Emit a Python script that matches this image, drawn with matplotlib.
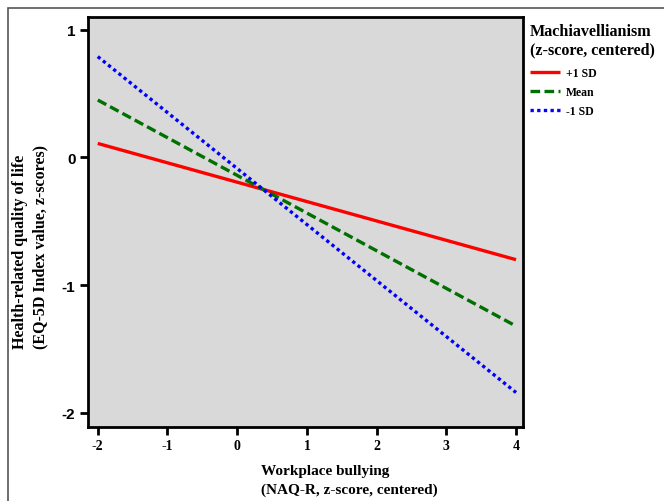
import matplotlib
matplotlib.use("Agg")
import matplotlib.pyplot as plt
from matplotlib.patches import Rectangle
import numpy as np

x_vals = [-2, 4]
plus_sd = [0.11, -0.80]
mean_vals = [0.45, -1.32]
minus_sd = [0.79, -1.84]
series_labels = ["+1 SD", "Mean", "-1 SD"]
x_ticks = [-2, -1, 0, 1, 2, 3, 4]
y_ticks = [1, 0, -1, -2]

W, H = 664, 502
fig = plt.figure(figsize=(W/100, H/100), dpi=100)
fig.patch.set_facecolor("white")
# outer frame
fig.add_artist(Rectangle((8/W, -0.1), 1.2, (H-9)/H + 0.1, transform=fig.transFigure,
                         fill=False, edgecolor="#555555", linewidth=1.2))

ax = fig.add_axes([88/W, 1-428/H, (523-88)/W, (428-18)/H])
ax.set_facecolor("#d9d9d9")
l1, = ax.plot(x_vals, plus_sd, color="#ff0000", lw=2.4, linestyle="-", solid_capstyle="butt")
l2, = ax.plot(x_vals, mean_vals, color="#007000", lw=2.4, linestyle=(0, (2.9, 1.3)))
l3, = ax.plot(x_vals, minus_sd, color="#0000ff", lw=2.4, linestyle=(0, (1.0, 1.0)))

ax.set_xlim(-2.14, 4.10)
ax.set_ylim(-2.11, 1.10)
ax.set_xticks(x_ticks)
ax.set_yticks(y_ticks)
ax.set_xticklabels([str(t) for t in x_ticks], fontfamily="Liberation Serif", fontweight="bold", fontsize=10)
ax.set_yticklabels([str(t) for t in y_ticks], fontfamily="Liberation Sans", fontweight="bold", fontsize=11)
for s in ax.spines.values():
    s.set_linewidth(2)
ax.tick_params(direction="out", length=6, width=2, pad=3)

fig.text(12/W, 1-247/H, "Health-related quality of life\n(EQ-5D Index value, z-scores)",
         rotation=90, va="center", ha="left", fontfamily="Liberation Serif", fontweight="bold",
         fontsize=11.5, linespacing=1.35)
fig.text(261/W, 1-481/H, "Workplace bullying\n(NAQ-R, z-score, centered)",
         va="center", ha="left", fontfamily="Liberation Serif", fontweight="bold",
         fontsize=11, linespacing=1.5)

leg = fig.legend([l1, l2, l3], series_labels, loc="upper left",
                 bbox_to_anchor=(519/W, 1-13/H), frameon=False,
                 title="Machiavellianism\n(z-score, centered)",
                 prop={"family": "Liberation Serif", "weight": "bold", "size": 8.5},
                 handlelength=2.6, handletextpad=0.5, labelspacing=0.6)
leg.get_title().set_fontfamily("Liberation Serif")
leg.get_title().set_fontweight("bold")
leg.get_title().set_fontsize(11.6)
leg.get_title().set_linespacing(1.2)
leg._legend_box.align = "left"
leg._legend_box.sep = 7

fig.savefig("out.png", dpi=100)
